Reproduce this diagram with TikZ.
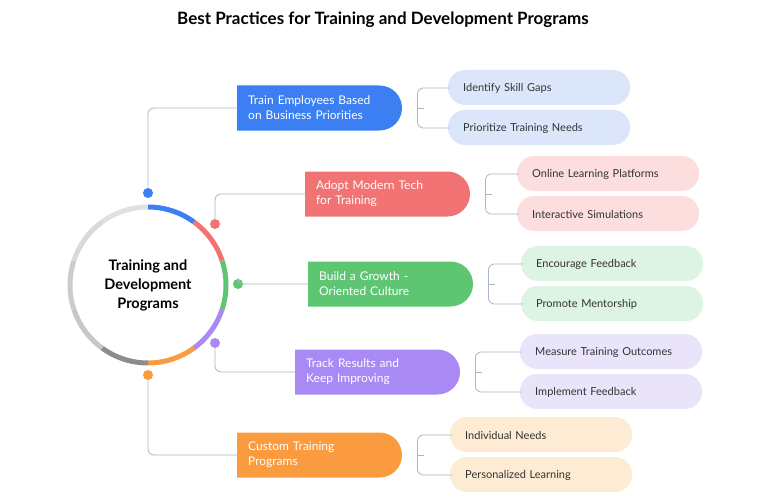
\documentclass[tikz,border=0pt]{standalone}
\usepackage{fontspec}
\setmainfont{Lato}
\usetikzlibrary{positioning}
\definecolor{cblue}{HTML}{3B7FF2}
\definecolor{cred}{HTML}{F27373}
\definecolor{cgreen}{HTML}{5EC672}
\definecolor{cpurple}{HTML}{A98AF5}
\definecolor{corange}{HTML}{F99B3E}
\definecolor{lblue}{HTML}{DCE6FB}
\definecolor{lred}{HTML}{FCDEDE}
\definecolor{lgreen}{HTML}{DDF3E3}
\definecolor{lpurple}{HTML}{EAE4FB}
\definecolor{lorange}{HTML}{FDEBD4}
\definecolor{cline}{HTML}{A9B6C6}
\tikzset{
  mainbox/.style={text=white,minimum width=140pt,minimum height=45pt,
    text width=140pt,align=left,inner xsep=11pt,font=\fontsize{12}{15}\selectfont},
  subbox/.style={minimum width=180pt,minimum height=34pt,text width=150pt,align=left,
    inner xsep=14pt,font=\fontsize{11}{13}\selectfont,text=black!80},
  conn/.style={draw=cline,line width=0.8pt,rounded corners=6pt},
  dot/.style={circle,fill=#1,minimum size=10pt,inner sep=0pt}
}
\begin{document}
\begin{tikzpicture}[x=1pt,y=-1pt]
  \useasboundingbox (0,0) rectangle (765,500);
  \node[font=\bfseries\fontsize{17}{19}\selectfont] (title) at (383,20) {Best Practices for Training and Development Programs};
  % ring
  \begin{scope}[shift={(148,285)},x=1pt,y=1pt]
    \foreach \a/\c in {90/cblue,54/cred,18/cgreen,-18/cpurple,-54/corange,-90/black!45,-126/black!22,-162/black!20,162/black!15,126/black!12}
      \draw[\c,line width=5pt] (\a:78) arc [start angle=\a,end angle=\a-36,radius=78];
  \end{scope}
  \node[circle,minimum size=150pt,align=center,font=\bfseries\fontsize{14.5}{19}\selectfont] (hub) at (148,285) {Training and\\Development\\Programs};
  % branches
  \foreach \n/\bx/\by/\sx/\dx/\dy/\col/\lcol/\main/\subA/\subB in {
      1/237/108/448/148/193/cblue/lblue/{Train Employees Based\\on Business Priorities}/{Identify Skill Gaps}/{Prioritize Training Needs},
      2/305/194/517/215/224/cred/lred/{Adopt Modern Tech\\for Training}/{Online Learning Platforms}/{Interactive Simulations},
      3/308/284/521/238/284/cgreen/lgreen/{Build a Growth -\\Oriented Culture}/{Encourage Feedback}/{Promote Mentorship},
      4/295/372/520/215/343/cpurple/lpurple/{Track Results and\\Keep Improving}/{Measure Training Outcomes}/{Implement Feedback},
      5/237/455/450/148/375/corange/lorange/{Custom Training\\Programs}/{Individual Needs}/{Personalized Learning}} {
    \fill[\lcol,rounded corners=17pt] (\sx,\by-3) rectangle ++(182,-35);
    \fill[\lcol,rounded corners=17pt] (\sx,\by+2) rectangle ++(182,35);
    \node[subbox,anchor=west] (s\n a) at (\sx,\by-20) {\subA};
    \node[subbox,anchor=west] (s\n b) at (\sx,\by+20) {\subB};
    \fill[\col] (\bx,\by-22.5) -- (\bx+142.5,\by-22.5) arc [start angle=-90,end angle=90,radius=22.5] -- (\bx,\by+22.5) -- cycle;
    \node[mainbox,anchor=west] (m\n) at (\bx,\by) {\main};
    \node[dot=\col] (d\n) at (\dx,\dy) {};
    \coordinate (k\n) at ([xshift=18pt]m\n.east);
    \draw[conn] (m\n.east) ++(25pt,0) -- (k\n);
    \draw[conn] (k\n) |- ([xshift=2pt]s\n a.west);
    \draw[conn] (k\n) |- ([xshift=2pt]s\n b.west);
    \draw[conn] (d\n) |- (m\n.west);
  }
\end{tikzpicture}
\end{document}
